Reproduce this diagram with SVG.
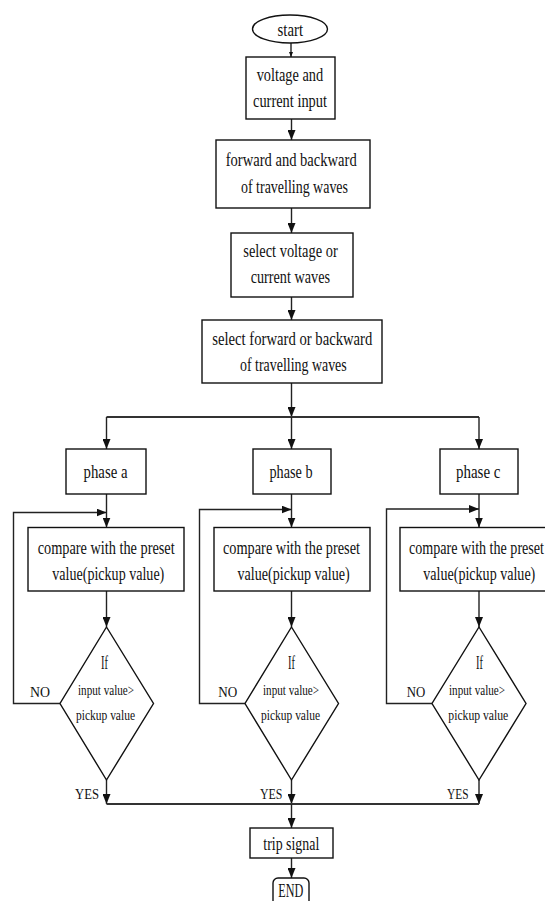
<svg xmlns="http://www.w3.org/2000/svg" width="545" height="901" viewBox="0 0 545 901">
<defs>
<style>
.box{fill:#fff;stroke:#111;stroke-width:1.4}
.ln{fill:none;stroke:#222;stroke-width:1.4}
.hl{fill:none;stroke:#333;stroke-width:1.8}
text{font-family:"Liberation Serif","Times New Roman",serif;fill:#111}
.t{font-size:18px}
.s{font-size:14px}
.l{font-size:15px}
</style>
<marker id="ah" viewBox="0 0 10 8" refX="10" refY="4" markerWidth="10" markerHeight="8" orient="auto" markerUnits="userSpaceOnUse"><path d="M0,0 L10,4 L0,8 z" fill="#111"/></marker>
<marker id="ahs" viewBox="0 0 10 8" refX="10" refY="4" markerWidth="5" markerHeight="5" orient="auto" markerUnits="userSpaceOnUse"><path d="M0,0 L10,4 L0,8 z" fill="#111"/></marker>
</defs>
<rect width="545" height="901" fill="#fff"/>

<g id="connectors">
<path class="ln" d="M291,43 V57" marker-end="url(#ahs)"/>
<path class="ln" d="M291.5,119 V140" marker-end="url(#ah)"/>
<path class="ln" d="M291.5,208 V233" marker-end="url(#ah)"/>
<path class="ln" d="M291.5,297 V320" marker-end="url(#ah)"/>
<path class="ln" d="M291.5,383 V417" marker-end="url(#ah)"/>
<path class="hl" d="M106.5,417 H479"/>
<path class="ln" d="M106.5,417 V449" marker-end="url(#ah)"/>
<path class="ln" d="M291.5,417 V449" marker-end="url(#ah)"/>
<path class="ln" d="M479,417 V449" marker-end="url(#ah)"/>
<path class="ln" d="M106.5,494 V527.5" marker-end="url(#ah)"/>
<path class="ln" d="M291.5,494 V527.5" marker-end="url(#ah)"/>
<path class="ln" d="M479,494 V527.5" marker-end="url(#ah)"/>
<path class="ln" d="M60,703.5 H13.5 V512.5 H106.5" marker-end="url(#ah)"/>
<path class="ln" d="M245,703.5 H199.5 V509.5 H291.5" marker-end="url(#ah)"/>
<path class="ln" d="M432,703.5 H386.5 V509 H479" marker-end="url(#ah)"/>
<path class="ln" d="M106.5,591 V627" marker-end="url(#ah)"/>
<path class="ln" d="M291.5,591 V627" marker-end="url(#ah)"/>
<path class="ln" d="M479,591 V627" marker-end="url(#ah)"/>
<path class="ln" d="M106.5,780 V804" marker-end="url(#ah)"/>
<path class="ln" d="M291.5,780 V804" marker-end="url(#ah)"/>
<path class="ln" d="M479,780 V804" marker-end="url(#ah)"/>
<path class="hl" d="M106.5,804 H479"/>
<path class="ln" d="M291.5,804 V828" marker-end="url(#ah)"/>
<path class="ln" d="M291.5,858 V878" marker-end="url(#ah)"/>
</g>

<g id="start">
<ellipse class="box" cx="290" cy="29" rx="37.5" ry="14"/>
<text class="t" x="277.5" y="36" textLength="25.5" lengthAdjust="spacingAndGlyphs">start</text>
</g>
<g id="input">
<rect class="box" x="246" y="57" width="89" height="62"/>
<text class="t" x="256.7" y="81" textLength="66.5" lengthAdjust="spacingAndGlyphs">voltage and</text>
<text class="t" x="253" y="107" textLength="74" lengthAdjust="spacingAndGlyphs">current input</text>
</g>
<g id="fwdbwd">
<rect class="box" x="216" y="140" width="154" height="68"/>
<text class="t" x="225.7" y="166" textLength="131" lengthAdjust="spacingAndGlyphs">forward and backward</text>
<text class="t" x="241" y="192.5" textLength="107" lengthAdjust="spacingAndGlyphs">of travelling waves</text>
</g>
<g id="selvc">
<rect class="box" x="231" y="233" width="122" height="64"/>
<text class="t" x="243.3" y="257" textLength="94.4" lengthAdjust="spacingAndGlyphs">select voltage or</text>
<text class="t" x="250.7" y="283" textLength="79.3" lengthAdjust="spacingAndGlyphs">current waves</text>
</g>
<g id="selfb">
<rect class="box" x="202" y="320" width="180" height="63"/>
<text class="t" x="212.3" y="344.5" textLength="160" lengthAdjust="spacingAndGlyphs">select forward or backward</text>
<text class="t" x="240" y="371" textLength="106.7" lengthAdjust="spacingAndGlyphs">of travelling waves</text>
</g>

<g id="phase-a">
<rect class="box" x="66" y="449" width="80" height="45"/>
<text class="t" x="83.5" y="478" textLength="44" lengthAdjust="spacingAndGlyphs">phase a</text>
</g>
<g id="phase-b">
<rect class="box" x="253" y="449" width="78" height="45"/>
<text class="t" x="269.5" y="478" textLength="43" lengthAdjust="spacingAndGlyphs">phase b</text>
</g>
<g id="phase-c">
<rect class="box" x="440" y="449" width="78" height="45"/>
<text class="t" x="456" y="478" textLength="44.5" lengthAdjust="spacingAndGlyphs">phase c</text>
</g>

<g id="compare-a">
<rect class="box" x="28" y="527.5" width="156" height="63.5"/>
<text class="t" x="37.7" y="553.5" textLength="137" lengthAdjust="spacingAndGlyphs">compare with the preset</text>
<text class="t" x="52.3" y="580" textLength="112" lengthAdjust="spacingAndGlyphs">value(pickup value)</text>
</g>
<g id="compare-b">
<rect class="box" x="214" y="527.5" width="156" height="63.5"/>
<text class="t" x="223" y="553.5" textLength="137" lengthAdjust="spacingAndGlyphs">compare with the preset</text>
<text class="t" x="237.6" y="580" textLength="112" lengthAdjust="spacingAndGlyphs">value(pickup value)</text>
</g>
<g id="compare-c">
<rect class="box" x="400" y="527.5" width="156" height="63.5"/>
<text class="t" x="409" y="553.5" textLength="135" lengthAdjust="spacingAndGlyphs">compare with the preset</text>
<text class="t" x="423.3" y="580" textLength="112" lengthAdjust="spacingAndGlyphs">value(pickup value)</text>
</g>

<g id="decision-a">
<polygon class="box" points="106.5,627 153.5,703.5 106.5,780 60,703.5"/>
<text class="t" x="101" y="669" textLength="7" lengthAdjust="spacingAndGlyphs">If</text>
<text class="s" x="78" y="695" textLength="56" lengthAdjust="spacingAndGlyphs">input value&gt;</text>
<text class="s" x="76" y="720" textLength="59" lengthAdjust="spacingAndGlyphs">pickup value</text>
<text class="l" x="30" y="697" textLength="20" lengthAdjust="spacingAndGlyphs">NO</text>
<text class="l" x="75" y="799" textLength="24" lengthAdjust="spacingAndGlyphs">YES</text>
</g>
<g id="decision-b">
<polygon class="box" points="291.5,627 338.5,703.5 291.5,780 245,703.5"/>
<text class="t" x="288" y="669" textLength="7" lengthAdjust="spacingAndGlyphs">If</text>
<text class="s" x="263" y="695" textLength="56" lengthAdjust="spacingAndGlyphs">input value&gt;</text>
<text class="s" x="261" y="720" textLength="59" lengthAdjust="spacingAndGlyphs">pickup value</text>
<text class="l" x="218.3" y="697" textLength="19" lengthAdjust="spacingAndGlyphs">NO</text>
<text class="l" x="260" y="799" textLength="22.5" lengthAdjust="spacingAndGlyphs">YES</text>
</g>
<g id="decision-c">
<polygon class="box" points="479,627 526,703.5 479,780 432,703.5"/>
<text class="t" x="476" y="669" textLength="7" lengthAdjust="spacingAndGlyphs">If</text>
<text class="s" x="449" y="695" textLength="56" lengthAdjust="spacingAndGlyphs">input value&gt;</text>
<text class="s" x="448.3" y="720" textLength="60" lengthAdjust="spacingAndGlyphs">pickup value</text>
<text class="l" x="406.7" y="697" textLength="18.5" lengthAdjust="spacingAndGlyphs">NO</text>
<text class="l" x="447" y="799" textLength="21.5" lengthAdjust="spacingAndGlyphs">YES</text>
</g>

<g id="trip">
<rect class="box" x="250" y="828" width="83" height="30"/>
<text class="t" x="263.3" y="849.5" textLength="56" lengthAdjust="spacingAndGlyphs">trip signal</text>
</g>
<g id="end">
<rect class="box" x="273" y="878" width="36" height="34" rx="5"/>
<text class="t" x="278.3" y="897" textLength="25" lengthAdjust="spacingAndGlyphs">END</text>
</g>
</svg>
